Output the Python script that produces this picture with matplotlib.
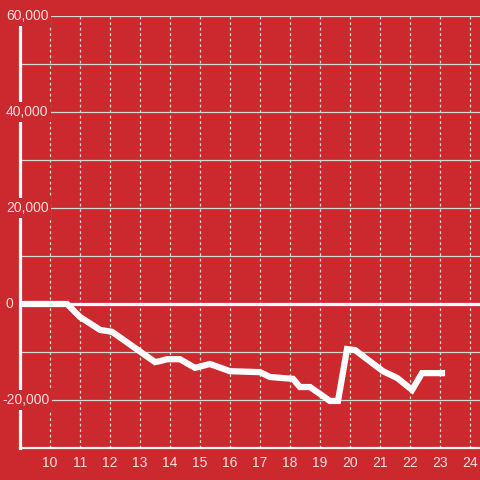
import matplotlib
matplotlib.use("Agg")
import matplotlib.pyplot as plt
import matplotlib.transforms as mtransforms

# data
x_vals = [9.0, 10.57, 11.0, 11.67, 12.07, 13.5, 13.67, 13.9, 14.33, 14.83, 15.33,
          16.0, 17.0, 17.33, 18.1, 18.33, 18.67, 19.33, 19.6, 19.9, 20.17,
          21.1, 21.57, 22.07, 22.4, 23.17]
y_vals = [0, 0, -2700, -5400, -5800, -12100, -11900, -11500, -11500, -13300, -12500,
          -14000, -14200, -15200, -15600, -17300, -17300, -20200, -20200, -9400, -9600,
          -14000, -15400, -17900, -14400, -14400]
x_ticks = list(range(10, 25))
y_label_vals = [60000, 40000, 20000, 0, -20000]
y_label_text = ["60,000", "40,000", "20,000", "0", "-20,000"]
y_grid_vals = list(range(-20000, 60001, 10000))

BG = "#cc292e"
TXT = "#f5dede"
GRID = "#d6d6d6"

plt.rcParams['font.family'] = ['Liberation Sans', 'DejaVu Sans']

fig = plt.figure(figsize=(4.8, 4.8), dpi=100, facecolor=BG)
ax = fig.add_axes([20/480, 32/480, 460/480, 432/480], facecolor=BG)
ax.set_xlim(9.0, 9.0 + 460/30)
ax.set_ylim(-30000, 60000)

# horizontal gridlines
for v in y_grid_vals:
    if v == 0:
        continue
    ax.axhline(v, color=GRID, lw=0.9, zorder=1)
# vertical dashed gridlines
for v in x_ticks:
    ax.axvline(v, color=GRID, lw=0.9, ls=(0, (2.2, 2.2)), zorder=1)

# zero line
ax.axhline(0, color="white", lw=2.3, zorder=3.5)

# spines
for s in ["top", "right"]:
    ax.spines[s].set_visible(False)
ax.spines["left"].set_color("white")
ax.spines["left"].set_linewidth(2.3)
ax.spines["bottom"].set_color("#f2f2f2")
ax.spines["bottom"].set_linewidth(1.6)

ax.set_xticks(x_ticks)
ax.set_xticklabels([str(t) for t in x_ticks])
ax.set_yticks([])
ax.tick_params(axis="x", length=0, pad=6, labelsize=10, labelcolor=TXT)

# y labels with background box
trans = mtransforms.blended_transform_factory(fig.transFigure, ax.transData)
for v, t in zip(y_label_vals, y_label_text):
    ax.text(6/480 if not t.startswith("-") else 2/480, v, t, transform=trans,
            ha="left", va="center", fontsize=10, color=TXT, zorder=3,
            bbox=dict(boxstyle="square,pad=0.2", fc=BG, ec="none"))

ax.plot(x_vals, y_vals, color="white", lw=4.5, solid_joinstyle="miter",
        solid_capstyle="butt", zorder=5, clip_on=False)

fig.savefig("out.png", dpi=100, facecolor=BG)
